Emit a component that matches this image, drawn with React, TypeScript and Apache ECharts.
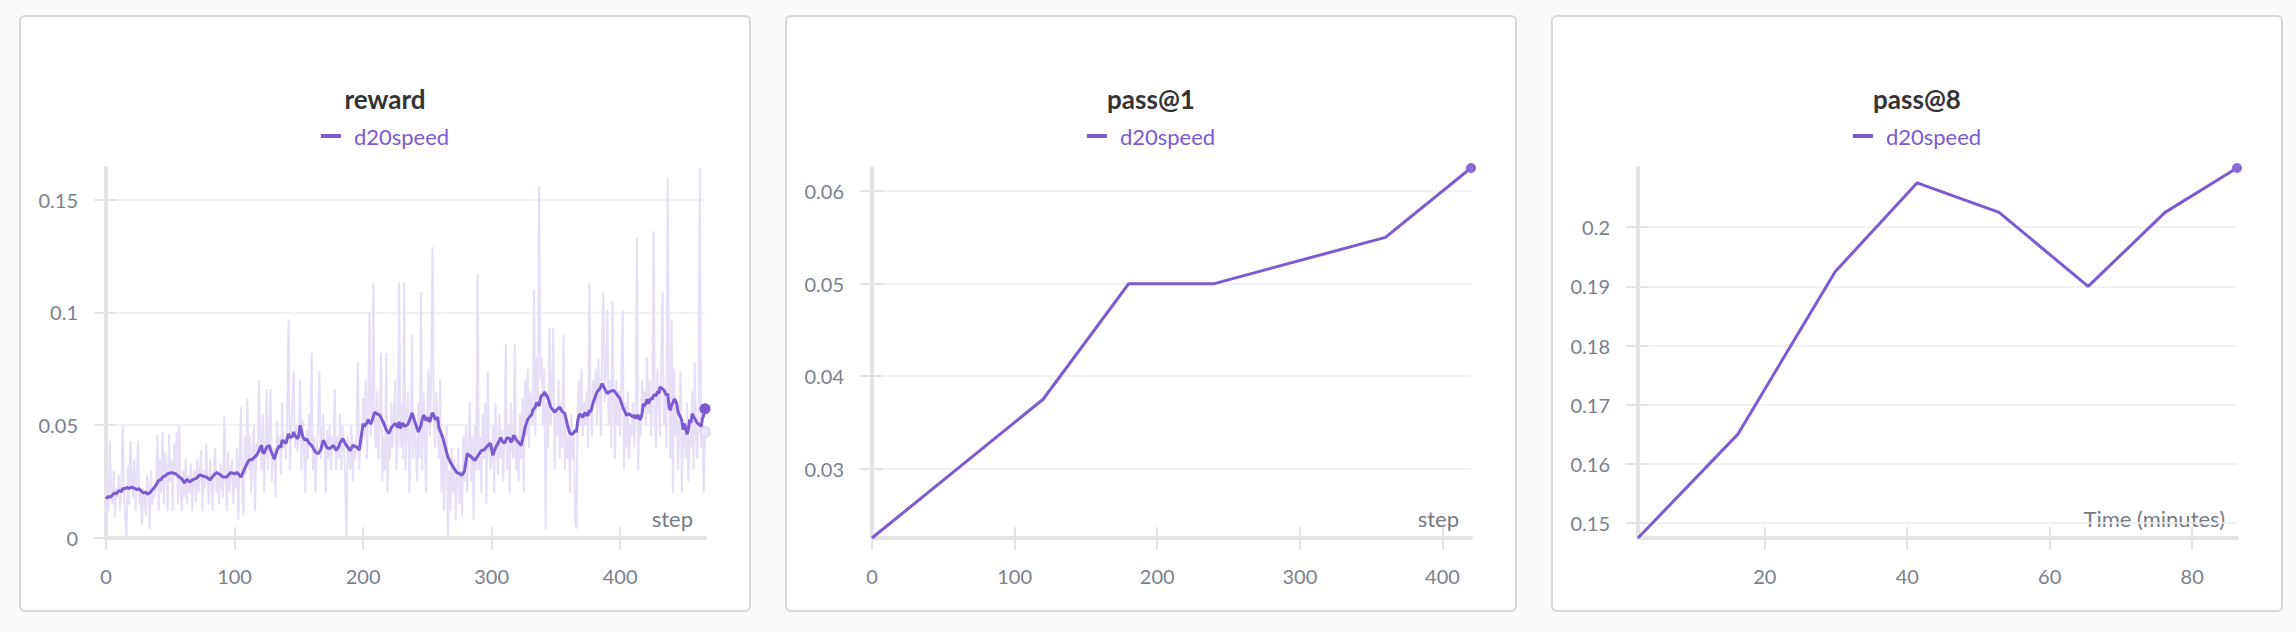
import React, { useEffect, useRef } from "react";
import * as echarts from "echarts";

// ---------- data ----------
const rewardRaw = [
  0.005, 0.024, 0.012, 0.043, 0.02, 0.015, 0.03, 0.009, 0.022, 0.018,
  0.028, 0.012, 0.025, 0.05, 0.02, 0.008, 0, 0.032, 0.015, 0.043,
  0.025, 0.018, 0.035, 0.012, 0.028, 0.043, 0.015, 0.02, 0.006, 0.022,
  0.017, 0.01, 0.028, 0.024, 0.004, 0.03, 0.015, 0.022, 0.018, 0.025,
  0.046, 0.012, 0.035, 0.02, 0.047, 0.015, 0.038, 0.03, 0.012, 0.046,
  0.025, 0.035, 0.012, 0.042, 0.028, 0.047, 0.015, 0.05, 0.02, 0.012,
  0.03, 0.018, 0.035, 0.015, 0.028, 0.02, 0.033, 0.012, 0.025, 0.03,
  0.016, 0.035, 0.02, 0.028, 0.039, 0.012, 0.03, 0.022, 0.042, 0.025,
  0.015, 0.035, 0.025, 0.012, 0.03, 0.04, 0.02, 0.028, 0.015, 0.033,
  0.025, 0.018, 0.054, 0.03, 0.012, 0.038, 0.02, 0.028, 0.035, 0.015,
  0.03, 0.022, 0.04, 0.008, 0.035, 0.058, 0.02, 0.01, 0.045, 0.028,
  0.062, 0.03, 0.045, 0.02, 0.038, 0.05, 0.012, 0.042, 0.035, 0.07,
  0.045, 0.03, 0.055, 0.02, 0.04, 0.066, 0.03, 0.048, 0.066, 0.025,
  0.04, 0.035, 0.018, 0.052, 0.038, 0.045, 0.028, 0.06, 0.04, 0.045,
  0.035, 0.055, 0.097, 0.03, 0.045, 0.06, 0.074, 0.04, 0.05, 0.038,
  0.045, 0.07, 0.03, 0.052, 0.04, 0.02, 0.048, 0.035, 0.055, 0.04,
  0.082, 0.03, 0.045, 0.02, 0.038, 0.05, 0.074, 0.035, 0.045, 0.055,
  0.04, 0.02, 0.048, 0.035, 0.05, 0.03, 0.045, 0.04, 0.066, 0.03,
  0.045, 0.035, 0.055, 0.03, 0.05, 0.04, 0.028, 0, 0.045, 0.038,
  0.03, 0.05, 0.025, 0.042, 0.035, 0.048, 0.078, 0.03, 0.045, 0.04,
  0.062, 0.045, 0.07, 0.035, 0.06, 0.1, 0.045, 0.055, 0.113, 0.05,
  0.04, 0.065, 0.035, 0.055, 0.082, 0.025, 0.045, 0.03, 0.082, 0.02,
  0.045, 0.035, 0.06, 0.04, 0.055, 0.07, 0.03, 0.045, 0.113, 0.04,
  0.06, 0.035, 0.113, 0.03, 0.05, 0.065, 0.02, 0.04, 0.09, 0.035,
  0.055, 0.04, 0.025, 0.06, 0.035, 0.109, 0.03, 0.065, 0.045, 0.02,
  0.06, 0.075, 0.045, 0.07, 0.129, 0.055, 0.04, 0.065, 0.05, 0.035,
  0.07, 0.02, 0.045, 0.012, 0.035, 0.05, 0, 0.03, 0.012, 0.04,
  0.02, 0.035, 0.008, 0.025, 0.04, 0.015, 0.03, 0.01, 0.045, 0.025,
  0.05, 0.02, 0.04, 0.06, 0.025, 0.045, 0.008, 0.05, 0.03, 0.117,
  0.03, 0.045, 0.02, 0.055, 0.035, 0.06, 0.015, 0.074, 0.04, 0.03,
  0.035, 0.05, 0.02, 0.06, 0.04, 0.028, 0.055, 0.035, 0.048, 0.025,
  0.045, 0.086, 0.03, 0.05, 0.02, 0.06, 0.04, 0.035, 0.086, 0.03,
  0.045, 0.025, 0.055, 0.035, 0.062, 0.02, 0.07, 0.045, 0.075, 0.04,
  0.065, 0.06, 0.05, 0.11, 0.045, 0.08, 0.06, 0.156, 0.07, 0.08,
  0.05, 0.075, 0.004, 0.06, 0.04, 0.093, 0.05, 0.065, 0.093, 0.03,
  0.055, 0.045, 0.07, 0.035, 0.06, 0.04, 0.09, 0.03, 0.05, 0.035,
  0.045, 0.02, 0.055, 0.035, 0.045, 0.008, 0.004, 0.06, 0.07, 0.05,
  0.075, 0.045, 0.06, 0.05, 0.065, 0.04, 0.113, 0.055, 0.045, 0.07,
  0.06, 0.075, 0.05, 0.08, 0.065, 0.045, 0.09, 0.109, 0.06, 0.075,
  0.101, 0.05, 0.07, 0.04, 0.105, 0.06, 0.035, 0.07, 0.05, 0.065,
  0.045, 0.075, 0.101, 0.03, 0.06, 0.04, 0.065, 0.035, 0.05, 0.045,
  0.06, 0.04, 0.055, 0.133, 0.03, 0.055, 0.045, 0.07, 0.06, 0.065,
  0.05, 0.08, 0.055, 0.07, 0.045, 0.06, 0.136, 0.05, 0.04, 0.075,
  0.06, 0.045, 0.08, 0.109, 0.05, 0.065, 0.04, 0.16, 0.07, 0.035,
  0.097, 0.02, 0.075, 0.045, 0.06, 0.03, 0.05, 0.074, 0.02, 0.045,
  0.05, 0.035, 0.06, 0.025, 0.045, 0.04, 0.065, 0.03, 0.078, 0.045,
  0.035, 0.055, 0.164, 0.04, 0.05, 0.02, 0.047,
];

// smoothed reward: [step, value]
const rewardSmooth = [
  [0, 0.0174], [2, 0.0185], [3, 0.018], [5, 0.019], [6, 0.0198], [8, 0.0196], [10, 0.021],
  [12, 0.0205], [13, 0.0219], [15, 0.0218], [16, 0.0224], [18, 0.022], [20, 0.0226], [21, 0.0223],
  [24, 0.0215], [26, 0.0218], [27, 0.021], [29, 0.02], [31, 0.0203], [32, 0.0195], [34, 0.02],
  [37, 0.022], [39, 0.0235], [41, 0.0255], [43, 0.026], [44, 0.027], [46, 0.0275], [48, 0.0285],
  [51, 0.029], [54, 0.0285], [57, 0.027], [59, 0.0262], [61, 0.0244], [63, 0.026], [65, 0.0248],
  [68, 0.026], [70, 0.0263], [73, 0.028], [76, 0.0273], [78, 0.027], [81, 0.0258], [84, 0.028],
  [86, 0.029], [89, 0.028], [91, 0.027], [94, 0.027], [97, 0.029], [100, 0.0285], [102, 0.029],
  [105, 0.027], [108, 0.031], [111, 0.0344], [114, 0.035], [117, 0.0366], [119, 0.0385], [120, 0.0403],
  [121, 0.041], [122, 0.038], [123, 0.0375], [125, 0.0403], [127, 0.041], [128, 0.039], [131, 0.035],
  [133, 0.039], [135, 0.041], [136, 0.04], [137, 0.0433], [140, 0.042], [142, 0.0462], [143, 0.0445],
  [145, 0.045], [146, 0.047], [147, 0.0455], [149, 0.044], [150, 0.0455], [151, 0.05], [152, 0.0475],
  [153, 0.045], [155, 0.0433], [156, 0.044], [158, 0.042], [160, 0.041], [163, 0.038], [165, 0.0374],
  [167, 0.039], [169, 0.0433], [170, 0.0425], [171, 0.041], [172, 0.04], [174, 0.0396], [177, 0.041],
  [179, 0.0388], [181, 0.0405], [182, 0.042], [184, 0.044], [185, 0.0433], [186, 0.042], [187, 0.041],
  [190, 0.0388], [192, 0.041], [195, 0.0403], [197, 0.039], [200, 0.0507], [201, 0.0495], [203, 0.051],
  [204, 0.0525], [205, 0.0514], [206, 0.0505], [207, 0.052], [209, 0.0558], [211, 0.055], [213, 0.0544],
  [216, 0.051], [218, 0.048], [220, 0.0462], [222, 0.049], [225, 0.0507], [227, 0.049], [228, 0.0515],
  [229, 0.0485], [230, 0.05], [231, 0.051], [232, 0.0495], [234, 0.05], [235, 0.0505], [236, 0.052],
  [237, 0.0535], [238, 0.0555], [240, 0.052], [243, 0.047], [245, 0.05], [246, 0.0525], [247, 0.0545],
  [248, 0.0535], [249, 0.052], [250, 0.0535], [251, 0.0521], [252, 0.0515], [253, 0.054], [254, 0.0555],
  [255, 0.0544], [256, 0.0525], [257, 0.053], [258, 0.0535], [259, 0.049], [262, 0.0445], [264, 0.04],
  [266, 0.0359], [268, 0.0335], [270, 0.0315], [273, 0.029], [275, 0.0285], [277, 0.0278], [279, 0.03],
  [281, 0.0374], [284, 0.036], [287, 0.0344], [290, 0.037], [292, 0.0388], [294, 0.039], [297, 0.041],
  [299, 0.042], [301, 0.0366], [302, 0.0385], [303, 0.04], [305, 0.042], [306, 0.0433], [307, 0.0445],
  [308, 0.043], [310, 0.042], [311, 0.0433], [312, 0.0445], [314, 0.044], [315, 0.0425], [316, 0.043],
  [317, 0.0455], [318, 0.0448], [319, 0.0435], [320, 0.043], [323, 0.041], [325, 0.046], [326, 0.049],
  [327, 0.0507], [328, 0.0525], [330, 0.054], [331, 0.0545], [332, 0.0566], [334, 0.058], [335, 0.06],
  [336, 0.0595], [337, 0.0585], [338, 0.062], [339, 0.0635], [340, 0.063], [341, 0.0647], [343, 0.063],
  [344, 0.0617], [346, 0.058], [349, 0.0558], [351, 0.057], [353, 0.058], [355, 0.056], [357, 0.0551],
  [359, 0.05], [361, 0.0462], [363, 0.046], [365, 0.0477], [366, 0.047], [367, 0.052], [368, 0.0544],
  [369, 0.055], [370, 0.054], [371, 0.0535], [372, 0.055], [373, 0.0555], [374, 0.0544], [375, 0.0545],
  [376, 0.0565], [377, 0.0558], [379, 0.06], [382, 0.0647], [384, 0.066], [386, 0.0684], [388, 0.066],
  [390, 0.064], [392, 0.065], [395, 0.0654], [397, 0.064], [400, 0.0617], [402, 0.058], [405, 0.0544],
  [407, 0.055], [410, 0.0536], [411, 0.0545], [412, 0.053], [413, 0.054], [414, 0.0545], [415, 0.0525],
  [416, 0.0529], [417, 0.055], [418, 0.0595], [419, 0.0585], [420, 0.06], [421, 0.0615], [422, 0.0595],
  [423, 0.061], [424, 0.062], [425, 0.0615], [426, 0.0632], [427, 0.0635], [428, 0.063], [429, 0.065],
  [430, 0.064], [431, 0.0669], [432, 0.0665], [433, 0.066], [434, 0.0655], [435, 0.0645], [436, 0.0632],
  [437, 0.064], [438, 0.058], [439, 0.0566], [440, 0.059], [441, 0.06], [442, 0.0615], [443, 0.061],
  [444, 0.0595], [445, 0.056], [446, 0.0545], [447, 0.0536], [448, 0.052], [449, 0.048], [450, 0.0507],
  [451, 0.0485], [452, 0.046], [453, 0.0477], [454, 0.0525], [455, 0.051], [456, 0.0551], [457, 0.054],
  [458, 0.053], [459, 0.052], [460, 0.051], [461, 0.0505], [462, 0.05], [463, 0.0495], [464, 0.0529],
  [465, 0.0545], [466, 0.0573],
];

const pass1Steps = [0, 120, 180, 240, 360, 420];
const pass1Values = [0.0225, 0.0375, 0.05, 0.05, 0.055, 0.0625];

const pass8Minutes = [2.2, 16.2, 29.9, 41.4, 52.9, 65.4, 76.2, 86.3];
const pass8Values = [0.1475, 0.165, 0.1925, 0.2075, 0.2025, 0.19, 0.2025, 0.21];

const stepTicks = [0, 100, 200, 300, 400];
const minuteTicks = [20, 40, 60, 80];
const rewardTicks = [0, 0.05, 0.1, 0.15];
const pass1Ticks = [0.03, 0.04, 0.05, 0.06];
const pass8Ticks = [0.15, 0.16, 0.17, 0.18, 0.19, 0.2];

// ---------- styles ----------
const FONT = 'Lato, "Noto Sans", sans-serif';
const PURPLE = "#7b5ad2";
const DOT = "#8a6bd9";
const RAW = "#e6dff7";
const AXIS = "#e4e4e6";
const GRIDLINE = "#eeeeef";
const LABEL = "#7b808b";

const fmt = (v: number) => String(parseFloat(Number(v).toFixed(6)));

function buildOption(cfg: any) {
  const tickStyle = { color: AXIS, width: 2 };
  return {
    animation: false,
    title: {
      text: cfg.title,
      left: "center",
      top: 69,
      padding: 0,
      textStyle: { fontSize: 26, fontWeight: "bold", color: "#333333", fontFamily: FONT, lineHeight: 30 },
    },
    legend: {
      data: ["d20speed"],
      top: 108,
      left: "center",
      padding: 0,
      icon: "rect",
      itemWidth: 20,
      itemHeight: 4,
      textStyle: { color: PURPLE, fontSize: 22, fontFamily: FONT, lineHeight: 26, padding: [0, 0, 0, 8] },
    },
    graphic: [
      {
        type: "text",
        right: 58,
        top: 492,
        silent: true,
        style: { text: cfg.xName, fontSize: 22, fontFamily: FONT, fill: "#767a83" },
      },
    ],
    grid: { left: 87, top: 153, right: 46, bottom: 74, containLabel: false, outerBoundsMode: "none" },
    xAxis: [
      {
        type: "value",
        position: "bottom",
        min: cfg.xMin,
        max: cfg.xMax,
        axisLine: { show: true, onZero: false, lineStyle: { color: AXIS, width: 4 } },
        axisTick: { show: true, length: 12, customValues: cfg.xTicks, lineStyle: tickStyle },
        axisLabel: {
          customValues: cfg.xTicks,
          margin: 28,
          color: LABEL,
          fontSize: 20,
          fontFamily: FONT,
          formatter: fmt,
        },
        splitLine: { show: false },
      },
      {
        type: "value",
        position: "bottom",
        min: cfg.xMin,
        max: cfg.xMax,
        axisLine: { show: false, onZero: false },
        axisTick: { show: true, inside: true, length: 11, customValues: cfg.xTicks, lineStyle: tickStyle },
        axisLabel: { show: false },
        splitLine: { show: false },
      },
    ],
    yAxis: [
      {
        type: "value",
        position: "left",
        min: cfg.yMin,
        max: cfg.yMax,
        axisLine: { show: true, onZero: false, lineStyle: { color: AXIS, width: 4 } },
        axisTick: { show: true, length: 12, customValues: cfg.yTicks, lineStyle: tickStyle },
        axisLabel: {
          customValues: cfg.yTicks,
          margin: 28,
          color: LABEL,
          fontSize: 20,
          fontFamily: FONT,
          formatter: fmt,
        },
        splitLine: { show: true, lineStyle: { color: GRIDLINE, width: 1.5 } },
      },
      {
        type: "value",
        position: "left",
        min: cfg.yMin,
        max: cfg.yMax,
        axisLine: { show: false, onZero: false },
        axisTick: { show: true, inside: true, length: 11, customValues: cfg.yTicks, lineStyle: tickStyle },
        axisLabel: { show: false },
        splitLine: { show: false },
      },
    ],
    series: cfg.series,
  };
}

const lastOf = (arr: any[]) => arr[arr.length - 1];

const rewardRawPairs = rewardRaw.map((v, i) => [i, v]);
const rewardOption = buildOption({
  title: "reward",
  xName: "step",
  xMin: 0,
  xMax: 466,
  xTicks: stepTicks,
  yMin: 0,
  yMax: 0.164,
  yTicks: rewardTicks,
  series: [
    {
      name: "d20speed (raw)",
      type: "line",
      data: rewardRawPairs,
      showSymbol: false,
      symbol: "none",
      silent: true,
      lineStyle: { color: RAW, width: 2 },
      itemStyle: { color: RAW },
      z: 1,
      markPoint: {
        silent: true,
        symbol: "circle",
        symbolSize: 10,
        label: { show: false },
        itemStyle: { color: "#ece6f9", borderColor: "#ddd3f5", borderWidth: 1.5 },
        data: [{ coord: lastOf(rewardRawPairs) }],
      },
    },
    {
      name: "d20speed",
      type: "line",
      color: PURPLE,
      data: rewardSmooth,
      showSymbol: false,
      symbol: "none",
      lineStyle: { color: PURPLE, width: 3 },
      z: 3,
      markPoint: {
        silent: true,
        symbol: "circle",
        symbolSize: 11,
        label: { show: false },
        itemStyle: { color: PURPLE },
        data: [{ coord: lastOf(rewardSmooth) }],
      },
    },
  ],
});

const pass1Pairs = pass1Steps.map((s, i) => [s, pass1Values[i]]);
const pass1Option = buildOption({
  title: "pass@1",
  xName: "step",
  xMin: 0,
  xMax: 420,
  xTicks: stepTicks,
  yMin: 0.0225,
  yMax: 0.0625,
  yTicks: pass1Ticks,
  series: [
    {
      name: "d20speed",
      type: "line",
      color: PURPLE,
      data: pass1Pairs,
      showSymbol: false,
      symbol: "none",
      lineStyle: { color: PURPLE, width: 3 },
      markPoint: {
        silent: true,
        symbol: "circle",
        symbolSize: 10,
        label: { show: false },
        itemStyle: { color: DOT },
        data: [{ coord: lastOf(pass1Pairs) }],
      },
    },
  ],
});

const pass8Pairs = pass8Minutes.map((m, i) => [m, pass8Values[i]]);
const pass8Option = buildOption({
  title: "pass@8",
  xName: "Time (minutes)",
  xMin: 2.2,
  xMax: 86.3,
  xTicks: minuteTicks,
  yMin: 0.1475,
  yMax: 0.21,
  yTicks: pass8Ticks,
  series: [
    {
      name: "d20speed",
      type: "line",
      color: PURPLE,
      data: pass8Pairs,
      showSymbol: false,
      symbol: "none",
      lineStyle: { color: PURPLE, width: 3 },
      markPoint: {
        silent: true,
        symbol: "circle",
        symbolSize: 10,
        label: { show: false },
        itemStyle: { color: DOT },
        data: [{ coord: lastOf(pass8Pairs) }],
      },
    },
  ],
});

function Card({ left, option }: { left: number; option: any }) {
  const ref = useRef<HTMLDivElement>(null);
  useEffect(() => {
    const chart = echarts.init(ref.current as HTMLDivElement, null, { renderer: "svg" });
    chart.setOption(option);
    return () => chart.dispose();
  }, [option]);
  return (
    <div
      style={{
        position: "absolute",
        left,
        top: 15,
        width: 732,
        height: 597,
        boxSizing: "border-box",
        border: "2px solid #d8d8dc",
        borderRadius: 6,
        background: "#ffffff",
      }}
    >
      <div ref={ref} style={{ position: "absolute", left: -2, top: -2, width: 732, height: 597 }} />
    </div>
  );
}

export default function App() {
  return (
    <div
      style={{
        position: "absolute",
        left: 0,
        top: 0,
        width: 2296,
        height: 632,
        background: "#fafafa",
        overflow: "hidden",
      }}
    >
      <Card left={19} option={rewardOption} />
      <Card left={785} option={pass1Option} />
      <Card left={1551} option={pass8Option} />
    </div>
  );
}
